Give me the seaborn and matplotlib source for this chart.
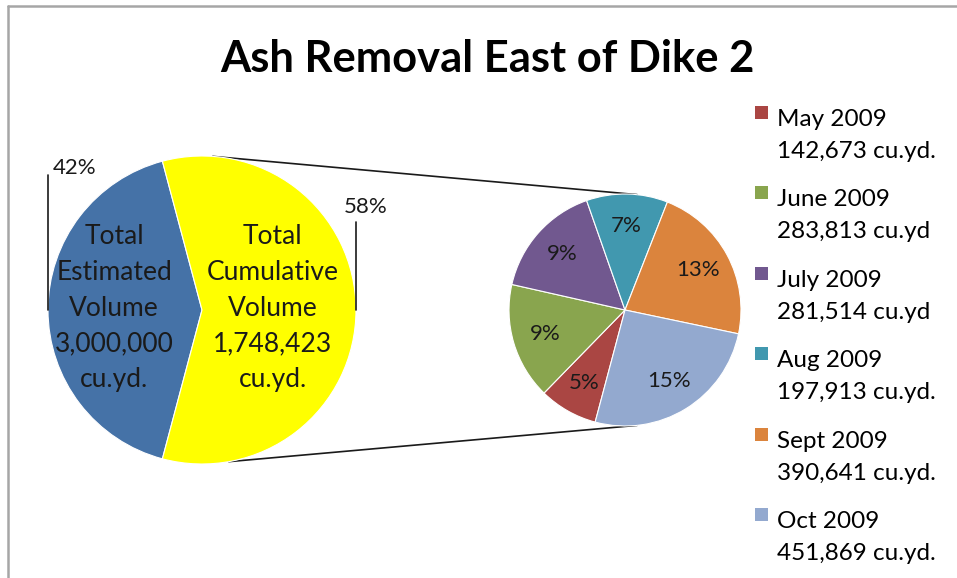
import numpy as np
import pandas as pd
import matplotlib
matplotlib.use("Agg")
import matplotlib.pyplot as plt
import matplotlib.patches as mpatches
from matplotlib.lines import Line2D
from matplotlib.legend_handler import HandlerPatch
import seaborn as sns

# ---------------- data ----------------
title = "Ash Removal East of Dike 2"
months = ["May 2009", "June 2009", "July 2009", "Aug 2009", "Sept 2009", "Oct 2009"]
month_volumes = [142673, 283813, 281514, 197913, 390641, 451869]
month_units = ["cu.yd.", "cu.yd", "cu.yd", "cu.yd.", "cu.yd.", "cu.yd."]
total_estimated = 3000000
summary_names = ["Total\nEstimated\nVolume", "Total\nCumulative\nVolume"]
summary_unit = "cu.yd."

month_colors = ["#AA4643", "#89A54E", "#71588F", "#4198AF", "#DB843D", "#93A9CF"]
summary_colors = ["#4572A7", "#FFFF00"]

cumulative = sum(month_volumes)
remaining = total_estimated - cumulative
summary_values = [remaining, cumulative]
summary_display = [total_estimated, cumulative]

# ---------------- style ----------------
sns.set_theme(style="white")
plt.rcParams["font.family"] = ["Lato", "DejaVu Sans"]
text_color = "#1a1a1a"

W, H = 957, 578
fig = plt.figure(figsize=(W / 100, H / 100), dpi=100)
fig.patch.set_facecolor("white")
ax = fig.add_axes([0, 0, 1, 1])

left_c = (202, H - 310)
left_r = 154
right_c = (625, H - 310)
right_r = 116

frac_rem = remaining / total_estimated
wedge_kw = dict(edgecolor="white", linewidth=0.8)

# primary pie
wl, _ = ax.pie(summary_values, colors=summary_colors,
               startangle=180 - 180 * frac_rem, counterclock=True,
               center=left_c, radius=left_r, wedgeprops=wedge_kw)

# secondary pie (breakdown of cumulative volume)
wr, _, autot = ax.pie(month_volumes, colors=month_colors,
                      startangle=180 + 180 * frac_rem, counterclock=False,
                      center=right_c, radius=right_r,
                      autopct=lambda p: f"{p * cumulative / total_estimated:.0f}%",
                      pctdistance=0.72,
                      textprops=dict(fontsize=16, color=text_color),
                      wedgeprops=wedge_kw)

# inner labels of primary pie
inner_factor = [0.57, 0.46]
for w, name, disp, f in zip(wl, summary_names, summary_display, inner_factor):
    th = np.deg2rad((w.theta1 + w.theta2) / 2)
    x = left_c[0] + f * left_r * np.cos(th)
    y = left_c[1] + f * left_r * np.sin(th) + 2
    ax.text(x, y, f"{name}\n{disp:,}\n{summary_unit}", ha="center", va="center",
            fontsize=19, color=text_color, linespacing=1.525)

# outside percentage labels with leader lines
pct_pos = [(-0.825, 0.92), (1.065, 0.67)]
leader_top = [0.877, 0.57]
leader_side = [-1, 1]
for v, (px, py), lt, sd in zip(summary_values, pct_pos, leader_top, leader_side):
    ax.text(left_c[0] + px * left_r, left_c[1] + py * left_r,
            f"{100 * v / total_estimated:.0f}%", ha="center", va="center",
            fontsize=16, color=text_color)
    xl = left_c[0] + sd * left_r
    ax.plot([xl, xl], [left_c[1], left_c[1] + lt * left_r], color=text_color, lw=1.2)

# connector lines between the pies
conn = [(86, 84), (-80, -84)]
for a1, a2 in conn:
    x1 = left_c[0] + left_r * np.cos(np.deg2rad(a1))
    y1 = left_c[1] + left_r * np.sin(np.deg2rad(a1))
    x2 = right_c[0] + right_r * np.cos(np.deg2rad(a2))
    y2 = right_c[1] + right_r * np.sin(np.deg2rad(a2))
    ax.plot([x1, x2], [y1, y2], color=text_color, lw=1.2, zorder=0)

ax.set_xlim(0, W)
ax.set_ylim(0, H)
ax.axis("off")

# legend
leg_fs = 17.5
sq = 9.5
shift = 16.5


def square(legend, orig_handle, xdescent, ydescent, width, height, fontsize):
    return mpatches.Rectangle((-xdescent, -ydescent + (height - sq) / 2 + shift), sq, sq)


leg_labels = [f"{m}\n{v:,} {u}" for m, v, u in zip(months, month_volumes, month_units)]
leg = ax.legend(wr, leg_labels,
                handler_map={mpatches.Wedge: HandlerPatch(patch_func=square)},
                loc="upper left", bbox_to_anchor=(755 / W, 1 - 109 / H),
                bbox_transform=fig.transFigure, frameon=False, fontsize=leg_fs,
                handlelength=sq / leg_fs, handletextpad=0.35, labelspacing=1.15,
                borderpad=0, borderaxespad=0)
for t in leg.get_texts():
    t.set_linespacing(1.62)
    t.set_color("black")
for h in leg.legend_handles:
    h.set_edgecolor("none")

# title
fig.text(487 / W, 1 - 59 / H, title, ha="center", va="center",
         fontsize=31.3, fontweight="bold", color="black")

# chart frame (top and left edges visible)
fig.add_artist(Line2D([8 / W, 1], [1 - 6 / H, 1 - 6 / H], transform=fig.transFigure,
                      color="#a6a6a6", lw=1.8))
fig.add_artist(Line2D([8 / W, 8 / W], [0, 1 - 6 / H], transform=fig.transFigure,
                      color="#a6a6a6", lw=1.8))

fig.savefig("out.png", dpi=100, facecolor="white")
